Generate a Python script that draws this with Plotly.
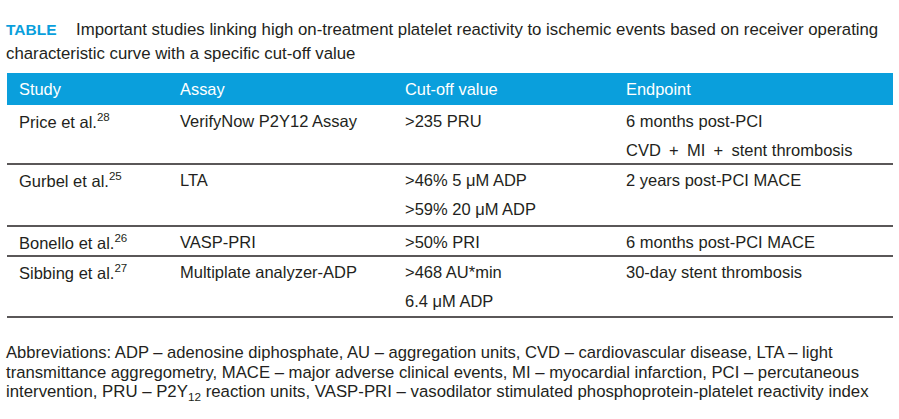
import plotly.graph_objects as go

W, H = 899, 419
FONT = "Liberation Sans, Arial, sans-serif"
BLUE = "#0a9fdc"
INK = "#231f20"

title_tag = "TABLE"
title_lines = [
    "Important studies linking high on-treatment platelet reactivity to ischemic events based on receiver operating",
    "characteristic curve with a specific cut-off value",
]
headers = ["Study", "Assay", "Cut-off value", "Endpoint"]
studies = ["Price et al.<sup>28</sup>", "Gurbel et al.<sup>25</sup>", "Bonello et al.<sup>26</sup>", "Sibbing et al.<sup>27</sup>"]
assays = ["VerifyNow P2Y12 Assay", "LTA", "VASP-PRI", "Multiplate analyzer-ADP"]
cutoffs = [[">235 PRU"], [">46% 5 μM ADP", ">59% 20 μM ADP"], [">50% PRI"], [">468 AU*min", "6.4 μM ADP"]]
endpoints = [["6 months post-PCI", "CVD\u2002+\u2002MI\u2002+\u2002stent thrombosis"], ["2 years post-PCI MACE"],
             ["6 months post-PCI MACE"], ["30-day stent thrombosis"]]
footnote = [
    "Abbreviations: ADP – adenosine diphosphate, AU – aggregation units, CVD – cardiovascular disease, LTA – light",
    "transmittance aggregometry, MACE – major adverse clinical events, MI – myocardial infarction, PCI – percutaneous",
    "intervention, PRU – P2Y<sub>12</sub> reaction units, VASP-PRI – vasodilator stimulated phosphoprotein-platelet reactivity index",
]
footnote_sizes = [16.6, 16.7, 16.8]

PAD = 3  # annotation inner padding compensation
col_x = [20, 181, 406, 627]
row_top = [105, 164, 226, 256]
row_bottom = [164, 226, 256, 317]
line_h = 28.5

fig = go.Figure()
ann = []
shapes = []

def txt(x, y, s, size=16.5, color=INK, bold=False):
    if bold:
        s = "<b>" + s + "</b>"
    ann.append(dict(x=x - PAD, y=y, xref="x", yref="y", text=s, showarrow=False,
                    xanchor="left", yanchor="middle", align="left",
                    font=dict(family=FONT, size=size, color=color)))

# title
txt(7, 29, title_tag, size=15.5, color=BLUE, bold=True)
txt(77, 29, title_lines[0], size=16.8)
txt(7, 53, title_lines[1], size=16.8)

# header bar
shapes.append(dict(type="rect", xref="x", yref="y", x0=7, x1=893, y0=73, y1=105,
                   fillcolor=BLUE, line=dict(width=0), layer="below"))
for x, h in zip(col_x, headers):
    txt(x, 89, h, size=16.4, color="white")

# rows
for i in range(len(studies)):
    y0 = row_top[i] + 16
    txt(col_x[0], y0, studies[i])
    txt(col_x[1], y0, assays[i])
    for j, c in enumerate(cutoffs[i]):
        txt(col_x[2], y0 + j * line_h, c)
    for j, e in enumerate(endpoints[i]):
        txt(col_x[3], y0 + j * line_h, e)
    shapes.append(dict(type="line", xref="x", yref="y", x0=7, x1=893,
                       y0=row_bottom[i], y1=row_bottom[i],
                       line=dict(color=INK, width=1.5)))

# footnote
for k, (f, fs) in enumerate(zip(footnote, footnote_sizes)):
    txt(7, 352 + k * 20, f, size=fs)

fig.update_layout(
    width=W, height=H, margin=dict(l=0, r=0, t=0, b=0),
    paper_bgcolor="white", plot_bgcolor="white",
    xaxis=dict(range=[0, W], visible=False, fixedrange=True),
    yaxis=dict(range=[H, 0], visible=False, fixedrange=True),
    annotations=ann, shapes=shapes, showlegend=False,
)
fig.write_html("out.html", config={"displayModeBar": False},
               post_script="document.body.style.margin='0';document.body.style.overflow='hidden';")
